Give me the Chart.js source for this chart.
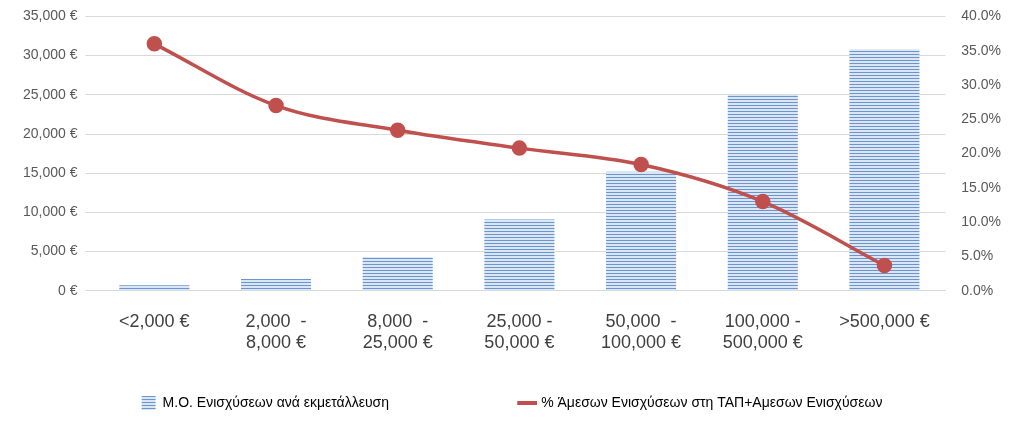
<!DOCTYPE html>
<html><head><meta charset="utf-8">
<script src="https://cdn.jsdelivr.net/npm/chart.js@4"></script>
<style>html,body{margin:0;background:#fff}#w{width:1024px;height:432px}</style>
</head><body><div id="w"><canvas id="c"></canvas></div>
<script>
const categories = [["<2,000 €"],["2,000  -","8,000 €"],["8,000  -","25,000 €"],["25,000 -","50,000 €"],["50,000  -","100,000 €"],["100,000 -","500,000 €"],[">500,000 €"]];
const avgSupport = [700, 1500, 4300, 9100, 15200, 25000, 30800];
const pctDirect = [36.0, 27.0, 23.4, 20.8, 18.4, 13.0, 3.7];
const barLabel = "Μ.Ο. Ενισχύσεων ανά εκμετάλλευση";
const lineLabel = "% Άμεσων Ενισχύσεων στη ΤΑΠ+Αμεσων Ενισχύσεων";

const pc = document.createElement('canvas'); pc.width = 3; pc.height = 3;
const px = pc.getContext('2d');
px.fillStyle = '#dbe6f4'; px.fillRect(0,0,3,3);
px.fillStyle = '#6b95cf'; px.fillRect(0,0,3,1);
const pattern = px.createPattern(pc, 'repeat');

Chart.defaults.font.family = "'Liberation Sans', Arial, sans-serif";
Chart.defaults.font.size = 13;
Chart.defaults.color = '#595959';
new Chart(document.getElementById('c'), {
  data: {
    labels: categories,
    datasets: [
      {type:'bar', label: barLabel, data: avgSupport, yAxisID:'y', backgroundColor: pattern, borderColor:'#4f81bd', borderWidth:0,
       categoryPercentage:0.8, barPercentage:0.72, order:2},
      {type:'line', label: lineLabel, data: pctDirect, yAxisID:'y1', borderColor:'#c0504d', backgroundColor:'#c0504d',
       borderWidth:3.5, pointRadius:6, pointHoverRadius:6, cubicInterpolationMode:'monotone', pointStyle:'circle', order:1}
    ]
  },
  options: {
    responsive:true, maintainAspectRatio:false, animation:false,
    layout:{padding:{left:15,right:15,top:16,bottom:12}},
    plugins:{legend:{position:'bottom', labels:{usePointStyle:true, boxWidth:40, padding:30, font:{size:14}, color:'#595959',
      generateLabels: ch => [
        {text: barLabel + '                          ', fillStyle: pattern, strokeStyle:'#4f81bd', lineWidth:0, pointStyle:'rect', datasetIndex:0},
        {text: lineLabel, fillStyle:'#c0504d', strokeStyle:'#c0504d', lineWidth:4, pointStyle:'line', datasetIndex:1}
      ]}}, tooltip:{enabled:false}},
    scales:{
      x:{grid:{display:false}, border:{color:'#d9d9d9'}, ticks:{font:{size:18}, color:'#404040', maxRotation:0, padding:12}},
      y:{position:'left', min:0, max:35000, grid:{color:'#d9d9d9'}, border:{display:false},
         ticks:{stepSize:5000, callback:v=>v.toLocaleString('en-US')+' €', font:{size:14}, padding:8}},
      y1:{position:'right', min:0, max:40, grid:{display:false}, border:{display:false},
         ticks:{stepSize:5, callback:v=>v.toFixed(1)+'%', font:{size:14}, padding:8}}
    }
  }
});
</script></body></html>
